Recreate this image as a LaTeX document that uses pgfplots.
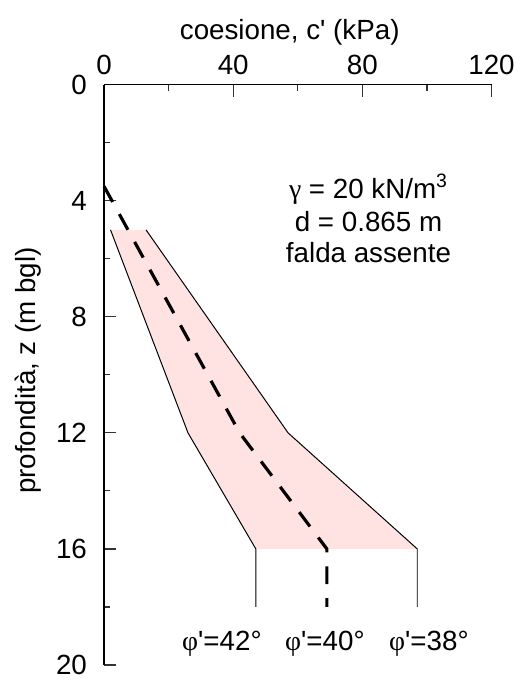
\documentclass[border=0pt]{standalone}
\usepackage{fontspec}
\setmainfont{Liberation Sans}
\newfontfamily\symf{Liberation Serif}
\usepackage{pgfplots}
\pgfplotsset{compat=1.18}
\definecolor{bandfill}{RGB}{255,226,226}
\begin{document}
\fontsize{14bp}{16.8bp}\selectfont
\begin{tikzpicture}
\path (-52.5bp,-6.5bp) rectangle (209.5bp,335.5bp);
\begin{axis}[
  scale only axis,
  width=195.5bp, height=292.7bp,
  xmin=0, xmax=120, ymin=0, ymax=20,
  y dir=reverse,
  axis x line=top, axis y line=left,
  axis line style={-, line width=0.6bp, black},
  xtick={0,40,80,120}, minor xtick={20,60,100},
  ytick={0,4,8,12,16,20}, minor ytick={2,6,10,14,18},
  tick align=inside,
  major tick length=6bp, minor tick length=3bp,
  tick style={line width=0.6bp, black!80},
  tick label style={font=\fontsize{14bp}{16.8bp}\selectfont},
  yticklabel style={xshift=-3.8bp},
  /pgf/number format/assume math mode=true,
  clip=false,
]
% band between phi'=42 and phi'=38
\addplot[fill=bandfill, draw=none] coordinates {
  (2,5) (13,5) (57,12) (97,16) (47,16) (26,12) (2,5)
};
% phi' = 42
\addplot[black, line width=0.5bp] coordinates {
  (2,5) (26,12) (47,16) (47,18)
};
% phi' = 38
\addplot[black, line width=0.5bp] coordinates {
  (13,5) (57,12) (97,16) (97,18)
};
% phi' = 40 (dashed)
\addplot[black, line width=1.6bp, dash pattern=on 9bp off 7bp] coordinates {
  (0,3.5) (42,12) (69,16) (69,18)
};
\node[anchor=base, yshift=23bp] at (axis cs:57.5,0) {coesione, c\textquotesingle{} (kPa)};
\node[xshift=-34.5bp, rotate=90, anchor=base] at (axis cs:0,9.85) {profondità, z (m bgl)};
\node[anchor=base] at (axis cs:81.9,3.91) {{\symf γ} = 20 kN/m\textsuperscript{3}};
\node[anchor=base] at (axis cs:81.9,5.04) {d = 0.865 m};
\node[anchor=base] at (axis cs:81.9,6.13) {falda assente};
\node[anchor=base] at (axis cs:36.5,19.51) {{\symf φ}\textquotesingle=42°};
\node[anchor=base] at (axis cs:68.4,19.51) {{\symf φ}\textquotesingle=40°};
\node[anchor=base] at (axis cs:100.6,19.51) {{\symf φ}\textquotesingle=38°};
\end{axis}
\end{tikzpicture}
\end{document}
